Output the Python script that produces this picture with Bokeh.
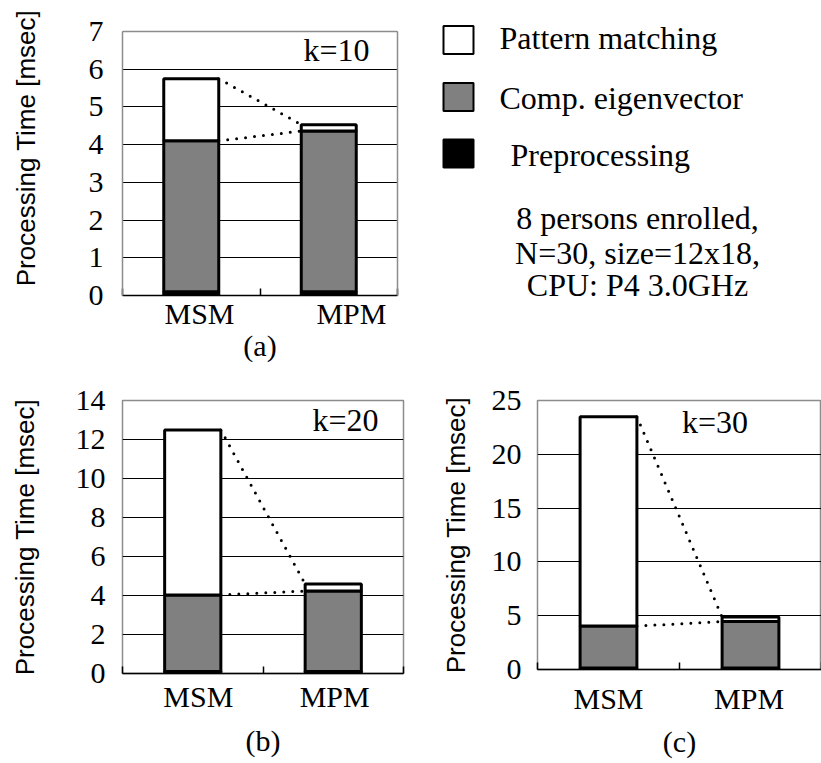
from bokeh.plotting import figure
from bokeh.models import (FixedTicker, Label, ColumnDataSource, Range1d, Title,
                          LinearAxis, Span)
from bokeh.layouts import column, row
from bokeh.embed import file_html
from bokeh.resources import INLINE

# ---------------- data ----------------
categories = ["MSM", "MPM"]
stack_names = ["Preprocessing", "Comp. eigenvector", "Pattern matching"]
k_values = [10, 20, 30]

pre_k10 = [0.10, 0.10]
eig_k10 = [4.00, 4.26]
pm_k10 = [1.65, 0.17]

pre_k20 = [0.10, 0.10]
eig_k20 = [3.93, 4.13]
pm_k20 = [8.46, 0.36]

pre_k30 = [0.15, 0.15]
eig_k30 = [3.89, 4.30]
pm_k30 = [19.46, 0.42]

y_max = [7, 14, 25]
y_step = [1, 2, 5]
panel_tags = ["(a)", "(b)", "(c)"]
notes = ["8 persons enrolled,", "N=30, size=12x18,", "CPU: P4 3.0GHz"]

# ---------------- style ----------------
SERIF = "Liberation Serif"
SANS = "Liberation Sans"
BAR_W = 0.4
FILLS = ["black", "#808080", "white"]
FRAME_GRAY = "#8c8c8c"


def make_panel(pre, eig, pm, ymax, ystep, k, tag, g):
    n = len(categories)
    ext = g.get("ext", 0)           # extra empty pixels of frame above ymax
    y_hi = ymax * (g["fh"] + ext) / g["fh"]
    p = figure(output_backend="svg", toolbar_location=None, title=None,
               frame_width=g["fw"], frame_height=g["fh"] + ext,
               min_border_left=g["bl"], min_border_right=g["br"],
               min_border_top=g["bt"], min_border_bottom=g["bb"],
               x_range=Range1d(0, n), y_range=Range1d(0, y_hi))
    p.background_fill_color = "white"
    p.border_fill_color = "white"

    xs = [i + 0.5 for i in range(n)]
    src = ColumnDataSource(dict(x=xs, pre=pre, eig=eig, pm=pm))
    rs = p.vbar_stack(["pre", "eig", "pm"], x="x", width=BAR_W, source=src,
                      fill_color=FILLS, line_color="black", line_width=3)

    eig_top = [a + b for a, b in zip(pre, eig)]
    tot = [a + b for a, b in zip(eig_top, pm)]
    p.segment(x0=[xs[0] + BAR_W / 2] * 2, y0=[tot[0], eig_top[0]],
              x1=[xs[1] - BAR_W / 2] * 2, y1=[tot[1], eig_top[1]],
              line_color="black", line_width=3, line_dash="0 9", line_cap="round")

    # y axis
    yax = p.yaxis[0]
    yax.ticker = FixedTicker(ticks=list(range(0, ymax + 1, ystep)))
    yax.major_label_text_font = SERIF
    yax.major_label_text_font_size = "30px"
    yax.major_label_text_color = "black"
    yax.axis_label = "Processing Time [msec]"
    yax.axis_label_text_font = SANS
    yax.axis_label_text_font_size = "26px"
    yax.axis_label_text_font_style = "normal"
    yax.axis_label_text_color = "black"
    yax.major_tick_line_color = None
    yax.minor_tick_line_color = None
    yax.major_tick_out = 0
    yax.major_tick_in = 0
    yax.minor_tick_out = 0
    yax.minor_tick_in = 0
    yax.major_label_standoff = g["ls"]
    yax.axis_label_standoff = g["als"]

    if ext:
        # frame box drawn only up to ymax
        p.outline_line_color = None
        yax.axis_line_color = FRAME_GRAY
        yax.axis_line_width = 1.5
        yax.bounds = (0, ymax)
        rax = LinearAxis(ticker=FixedTicker(ticks=[]), bounds=(0, ymax),
                         axis_line_color=FRAME_GRAY, axis_line_width=1.5,
                         major_tick_out=0, major_tick_in=0, minor_tick_out=0, minor_tick_in=0,
                         major_label_standoff=0)
        p.add_layout(rax, "right")
        p.add_layout(Span(location=ymax, dimension="width", line_color=FRAME_GRAY, line_width=1.5))
    else:
        yax.axis_line_color = None
        p.outline_line_color = FRAME_GRAY
        p.outline_line_width = 1.5

    # x axis
    xax = p.xaxis[0]
    xax.ticker = FixedTicker(ticks=g["lab"], minor_ticks=list(range(0, n + 1)))
    xax.major_label_overrides = {t: c for t, c in zip(g["lab"], categories)}
    xax.major_label_text_font = SERIF
    xax.major_label_text_font_size = "30px"
    xax.major_label_text_color = "black"
    xax.major_tick_line_color = None
    xax.major_tick_out = 0
    xax.major_tick_in = 0
    xax.minor_tick_in = 7
    xax.minor_tick_out = 0
    xax.minor_tick_line_color = "black"
    xax.minor_tick_line_width = 1.5
    xax.axis_line_color = "black"
    xax.axis_line_width = 1.5
    xax.major_label_standoff = g["xs"]

    p.xgrid.grid_line_color = None
    p.ygrid.grid_line_color = "black"
    p.ygrid.grid_line_width = 1

    p.add_layout(Label(x=g["kx"], y=g["ky"], text=f"k={k}", text_font=SERIF,
                       text_color="black", text_font_size="32px",
                       text_baseline="middle", text_align="left"))
    p.add_layout(Title(text=tag, align="center", offset=g["to"], standoff=g["ts"],
                       text_font=SERIF, text_font_size="30px", text_font_style="normal",
                       text_color="black"), "below")
    return p, rs


geo_a = dict(fw=275, fh=264, ext=31, bl=122, br=23, bt=0, bb=70, ls=19, als=45, xs=1,
             lab=[0.56, 1.665], kx=1.316, ky=6.5, to=20, ts=-11)
geo_b = dict(fw=281, fh=273, bl=122, br=27, bt=35, bb=90, ls=17, als=33, xs=6,
             lab=[0.54, 1.51], kx=1.352, ky=13.0, to=17, ts=13)
geo_c = dict(fw=284, fh=269, bl=107, br=0, bt=35, bb=94, ls=16, als=18, xs=12,
             lab=[0.5, 1.49], kx=1.017, ky=23.0, to=-12, ts=11)

pa, rsa = make_panel(pre_k10, eig_k10, pm_k10, y_max[0], y_step[0], k_values[0], panel_tags[0], geo_a)
pb, _ = make_panel(pre_k20, eig_k20, pm_k20, y_max[1], y_step[1], k_values[1], panel_tags[1], geo_b)
pc, _ = make_panel(pre_k30, eig_k30, pm_k30, y_max[2], y_step[2], k_values[2], panel_tags[2], geo_c)

# ---------------- key / notes panel (page-pixel coordinates) ----------------
X0, X1, Y1 = 420, 821, 365
pl = figure(output_backend="svg", toolbar_location=None, title=None,
            frame_width=X1 - X0, frame_height=Y1,
            min_border_left=0, min_border_right=0, min_border_top=0, min_border_bottom=0,
            x_range=Range1d(X0, X1), y_range=Range1d(Y1, 0),
            x_axis_type=None, y_axis_type=None)
pl.outline_line_color = None
pl.background_fill_color = "white"
pl.border_fill_color = "white"
pl.grid.grid_line_color = None

key_order = [2, 1, 0]                      # top to bottom: Pattern, Eigen, Pre
key_sq_y = [39.5, 96.5, 153]               # swatch centres
key_txt = [(499, 37.5), (499, 97.5), (510, 154)]
pl.rect(x=[458] * 3, y=key_sq_y, width=30, height=28,
        fill_color=[FILLS[i] for i in key_order], line_color="black", line_width=2)
for i, (tx, ty) in zip(key_order, key_txt):
    pl.add_layout(Label(x=tx, y=ty, text=stack_names[i], text_font=SERIF, text_font_size="32px",
                        text_color="black", text_baseline="middle", text_align="left"))

note_y = [217, 252.5, 284]
for t, yy in zip(notes, note_y):
    pl.add_layout(Label(x=637, y=yy, text=t, text_font=SERIF, text_font_size="32px",
                        text_color="black", text_baseline="middle", text_align="center"))

layout = column(row(pa, pl), row(pb, pc))
open("out.html", "w").write(file_html(layout, INLINE))
